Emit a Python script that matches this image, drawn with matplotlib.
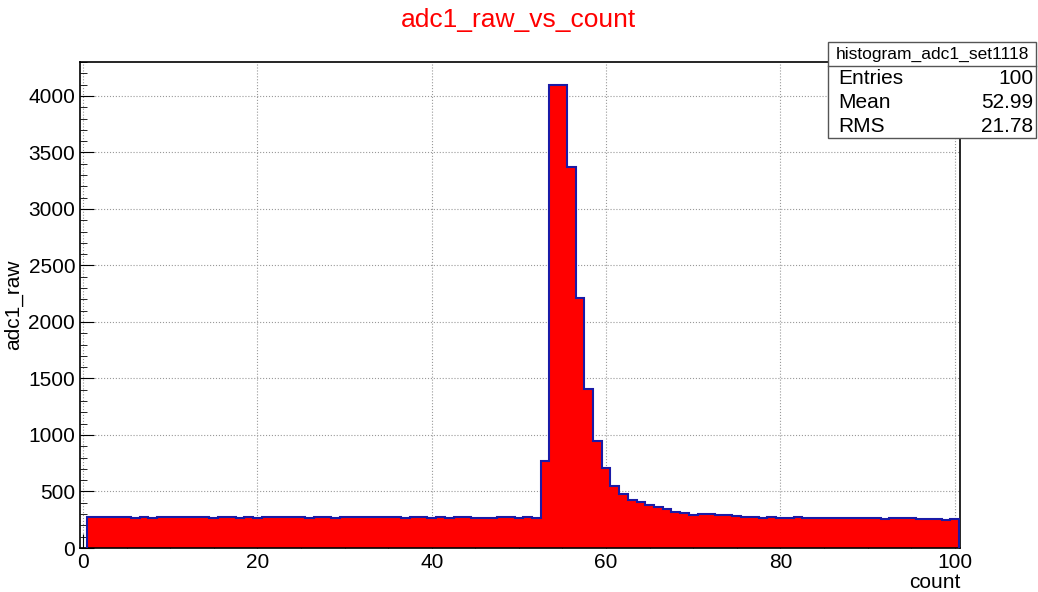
import matplotlib
matplotlib.use("Agg")
import numpy as np
import matplotlib.pyplot as plt
from matplotlib.ticker import MultipleLocator

plt.rcParams["font.family"] = ["Liberation Sans", "DejaVu Sans"]

# bin centres 1..100, heights
counts = np.arange(1, 101)
adc1_raw = [
    272, 272, 272, 272, 272, 266, 272, 266, 272, 272,
    272, 272, 272, 272, 266, 272, 272, 266, 272, 266,
    272, 272, 272, 272, 272, 266, 272, 272, 266, 272,
    272, 272, 272, 272, 272, 272, 266, 272, 272, 266,
    272, 266, 272, 272, 266, 266, 266, 272, 272, 266,
    272, 263, 773, 4100, 4100, 3369, 2210, 1407, 950, 705,
    549, 475, 425, 404, 378, 366, 342, 318, 310, 295,
    300, 300, 296, 290, 283, 276, 270, 266, 272, 266,
    262, 272, 268, 266, 262, 262, 262, 266, 266, 266,
    262, 260, 262, 262, 262, 260, 258, 255, 248, 258,
]
edges = np.arange(0.5, 101.0, 1.0)

fig = plt.figure(figsize=(10.38, 5.92), dpi=100)
ax = fig.add_axes([80/1038, 1-548/592, 880/1038, 486/592])

ax.stairs(adc1_raw, edges, fill=True, color="#ff0000", zorder=2)
ax.stairs(adc1_raw, edges, color="#1a1aa6", lw=1.5, baseline=0, zorder=3)

ax.set_xlim(-0.35, 100.6)
ax.set_ylim(0, 4300)
ax.xaxis.set_major_locator(MultipleLocator(20))
ax.xaxis.set_minor_locator(MultipleLocator(5))
ax.yaxis.set_major_locator(MultipleLocator(500))
ax.yaxis.set_minor_locator(MultipleLocator(100))
ax.tick_params(which="both", direction="in", top=False, right=False, labelsize=15)
ax.tick_params(which="major", length=10)
ax.tick_params(which="minor", length=5)
ax.grid(True, which="major", ls=":", color="#999999", lw=0.8, zorder=1)
ax.set_axisbelow(True)
for s in ax.spines.values():
    s.set_linewidth(1.2)

ax.set_xlabel("count", fontsize=15, loc="right", labelpad=1)
ax.set_ylabel("adc1_raw", fontsize=15, loc="center")
fig.text(0.5, 1-20/592, "adc1_raw_vs_count", color="red", fontsize=19,
         ha="center", va="center")

# stats box
bx0, bx1 = 828/1038, 1036/1038
rows = [("Entries", "100"), ("Mean", "52.99"), ("RMS", "21.78")]
top = 1-42/592
h0 = 24/592
hr = 24/592
box = plt.Rectangle((bx0, top - h0 - 3*hr), bx1-bx0, h0 + 3*hr,
                    transform=fig.transFigure, fc="white", ec="#555555", lw=1, zorder=10)
fig.add_artist(box)
fig.add_artist(plt.Line2D([bx0, bx1], [top-h0, top-h0], transform=fig.transFigure,
                          color="#555555", lw=1, zorder=11))
fig.text((bx0+bx1)/2, top - h0/2, "histogram_adc1_set1118", ha="center", va="center",
         fontsize=12.5, zorder=12)
for i, (k, v) in enumerate(rows):
    y = top - h0 - hr*(i+0.5)
    fig.text(bx0+10/1038, y, k, ha="left", va="center", fontsize=15, zorder=12)
    fig.text(bx1-3/1038, y, v, ha="right", va="center", fontsize=15, zorder=12)

fig.savefig("out.png", dpi=100)
